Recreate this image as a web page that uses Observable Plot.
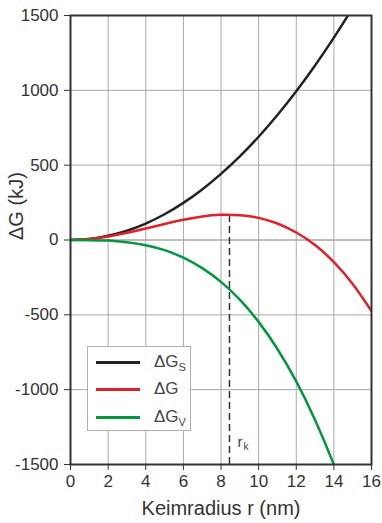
<!DOCTYPE html>
<html>
<head>
<meta charset="utf-8">
<script src="https://cdn.jsdelivr.net/npm/d3@7"></script>
<script src="https://cdn.jsdelivr.net/npm/@observablehq/plot@0.6"></script>
<style>
  html, body { margin: 0; padding: 0; background: #fff; }
  #wrap { position: relative; width: 382px; height: 523px; font-family: "Liberation Sans", Arial, sans-serif; }
  #legend { position: absolute; left: 87px; top: 346px; width: 104px; height: 85px; background: #fff; border: 1px solid #b0b0b0; box-sizing: border-box; }
  .row { position: absolute; left: 0; height: 20px; width: 100%; }
  .sw { position: absolute; left: 8px; width: 44px; height: 3px; top: 9px; }
  .lb { position: absolute; left: 66px; top: 0; font-size: 17px; line-height: 20px; color: #444; }
  .lb sub { font-size: 11px; vertical-align: -4px; line-height: 0; }
</style>
</head>
<body>
<div id="wrap"></div>
<script>
// Data
const radius = [0, 1, 2, 3, 4, 5, 6, 7, 8, 9, 10, 11, 12, 13, 14, 15, 16];
const dGs = [0, 7, 28, 62, 110, 172, 248, 338, 442, 559, 690, 835, 994, 1166, 1352, 1552, 1766];
const dG  = [0, 6, 23, 48, 77, 107, 135, 157, 168, 166, 148, 110, 50, -34, -148, -294, -474];
const dGv = [0, -1, -4, -15, -35, -68, -118, -188, -280, -399, -547, -728, -945, -1202, -1501, -1846, -2240];
const rk = 8.45;
const rkPeak = 170;
const seriesNames = ["ΔGs", "ΔG", "ΔGv"];
const seriesColors = ["#222222", "#e3202a", "#00973f"];
const xTitle = "Keimradius r (nm)";
const yTitle = "ΔG (kJ)";

const table = [];
radius.forEach((r, i) => {
  table.push({r, v: dGs[i], s: seriesNames[0]});
  table.push({r, v: dG[i], s: seriesNames[1]});
  table.push({r, v: dGv[i], s: seriesNames[2]});
});

const xGrid = d3.range(2, 16, 2);
const yGrid = d3.range(-1000, 1500, 500);

const chart = Plot.plot({
  width: 382,
  height: 523,
  marginLeft: 70,
  marginRight: 11,
  marginTop: 15,
  marginBottom: 59,
  style: { fontFamily: "Liberation Sans, Arial, sans-serif", fontSize: "17px", color: "#333", background: "#fff" },
  x: { domain: [0, 16], ticks: 8, tickSize: 6, tickPadding: 4, label: null, tickFormat: d => String(d) },
  y: { domain: [-1500, 1500], ticks: 6, tickSize: 6, tickPadding: 6, label: null, tickFormat: d => String(d) },
  color: { domain: seriesNames, range: seriesColors },
  marks: [
    Plot.ruleX(xGrid, { stroke: "#a8a8a8", strokeWidth: 1 }),
    Plot.ruleY(yGrid, { stroke: "#a8a8a8", strokeWidth: 1 }),
    Plot.ruleY([0], { stroke: "#a8a8a8", strokeWidth: 1 }),
    Plot.ruleX([rk], { y1: -1500, y2: rkPeak, stroke: "#333", strokeWidth: 1.5, strokeDasharray: "7,4" }),
    Plot.line(table, { x: "r", y: "v", z: "s", stroke: "s", strokeWidth: 2.5, curve: "natural", clip: true }),
    Plot.frame({ stroke: "#333", strokeWidth: 2 }),
    Plot.text(["r"], { x: rk, y: -1350, dx: 8, textAnchor: "start", fontSize: 15, fill: "#444" }),
    Plot.text(["k"], { x: rk, y: -1350, dx: 14, dy: 5, textAnchor: "start", fontSize: 10, fill: "#444" }),
    Plot.text([xTitle], { frameAnchor: "bottom", dy: 44, lineAnchor: "middle", fontSize: 20, fill: "#333" }),
    Plot.text([yTitle], { frameAnchor: "left", dx: -54, lineAnchor: "middle", rotate: -90, fontSize: 20, fill: "#333" })
  ]
});

const wrap = document.getElementById("wrap");
wrap.appendChild(chart);

const legend = document.createElement("div");
legend.id = "legend";
const labelsHtml = ["ΔG<sub>S</sub>", "ΔG", "ΔG<sub>V</sub>"];
const rowTops = [5, 32, 60];
seriesNames.forEach((name, i) => {
  const row = document.createElement("div");
  row.className = "row";
  row.style.top = rowTops[i] + "px";
  const sw = document.createElement("div");
  sw.className = "sw";
  sw.style.background = seriesColors[i];
  const lb = document.createElement("div");
  lb.className = "lb";
  lb.innerHTML = labelsHtml[i];
  row.appendChild(sw);
  row.appendChild(lb);
  legend.appendChild(row);
});
wrap.appendChild(legend);
</script>
</body>
</html>
